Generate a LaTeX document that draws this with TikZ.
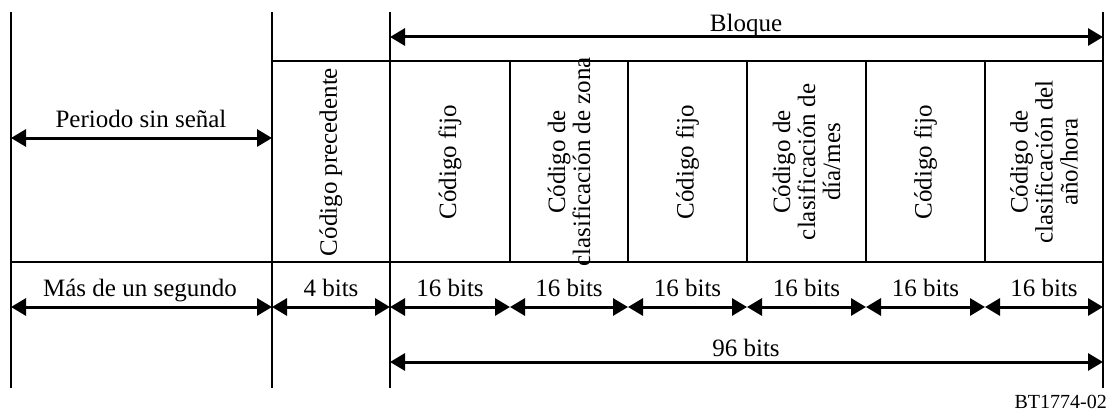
\documentclass[tikz,border=0pt]{standalone}
\usepackage{fontspec}
\setmainfont{Liberation Serif}
\usetikzlibrary{arrows.meta}
\newcommand\tfont{\fontsize{25}{25}\selectfont}
\newcommand\sfontx{\fontsize{20}{20}\selectfont}
\tikzset{
  frame/.style={line width=2pt},
  dimarrow/.style={line width=3pt,
    {Triangle[length=15pt,width=17pt]}-{Triangle[length=15pt,width=17pt]}},
  lbl/.style={font=\tfont, anchor=base, inner sep=0pt},
  rot/.style={font=\tfont, rotate=90, align=center, inner sep=0pt}
}
\begin{document}
\begin{tikzpicture}[x=1pt,y=-1pt]
\useasboundingbox (0,0) rectangle (1110,412);
% frame lines
\foreach \x in {11,272,390,1103} \draw[frame] (\x,12) -- (\x,388);
\foreach \x in {510,628,747,866,985} \draw[frame] (\x,61) -- (\x,262);
\draw[frame] (272,61) -- (1103,61);
\draw[frame] (11,262) -- (1103,262);
% coordinates
\coordinate (ctop) at (390,37);  \coordinate (itop) at (1103,37);
\coordinate (amid) at (11,138);  \coordinate (bmid) at (272,138);
\coordinate (abit) at (11,307);
\coordinate (bbit) at (272,307);
\coordinate (cbit) at (390,307);
\coordinate (dbit) at (510,307);
\coordinate (ebit) at (628,307);
\coordinate (fbit) at (747,307);
\coordinate (gbit) at (866,307);
\coordinate (hbit) at (985,307);
\coordinate (ibit) at (1103,307);
\coordinate (clow) at (390,362);  \coordinate (ilow) at (1103,362);
% arrows
\draw[dimarrow] (ctop) -- (itop);
\draw[dimarrow] (amid) -- (bmid);
\draw[dimarrow] (abit) -- (bbit);
\draw[dimarrow] (bbit) -- (cbit);
\draw[dimarrow] (cbit) -- (dbit);
\draw[dimarrow] (dbit) -- (ebit);
\draw[dimarrow] (ebit) -- (fbit);
\draw[dimarrow] (fbit) -- (gbit);
\draw[dimarrow] (gbit) -- (hbit);
\draw[dimarrow] (hbit) -- (ibit);
\draw[dimarrow] (clow) -- (ilow);
% labels
\node[lbl] (bloque) at (746,32) {Bloque};
\node[lbl] (periodo) at (141,127) {Periodo sin señal};
\node[lbl] (mas) at (140,296) {Más de un segundo};
\node[lbl] (b4) at (331,296) {4 bits};
\node[lbl] (b161) at (450,296) {16 bits};
\node[lbl] (b162) at (569,296) {16 bits};
\node[lbl] (b163) at (687.5,296) {16 bits};
\node[lbl] (b164) at (806.5,296) {16 bits};
\node[lbl] (b165) at (925.5,296) {16 bits};
\node[lbl] (b166) at (1044,296) {16 bits};
\node[lbl] (b96) at (746,356) {96 bits};
% rotated texts
\node[rot] (t0) at (331,162) {Código precedente};
\node[rot] (t1) at (450,162) {Código fijo};
\node[rot] (t2) at (569,162) {Código de\\clasificación de zona};
\node[rot] (t3) at (687.5,162) {Código fijo};
\node[rot] (t4) at (806.5,162) {Código de\\clasificación de\\día/mes};
\node[rot] (t5) at (925.5,162) {Código fijo};
\node[rot] (t6) at (1044,162) {Código de\\clasificación del\\año/hora};
\node[font=\sfontx, anchor=base east, inner sep=0pt] (ref) at (1107,408) {BT1774-02};
\end{tikzpicture}
\end{document}
